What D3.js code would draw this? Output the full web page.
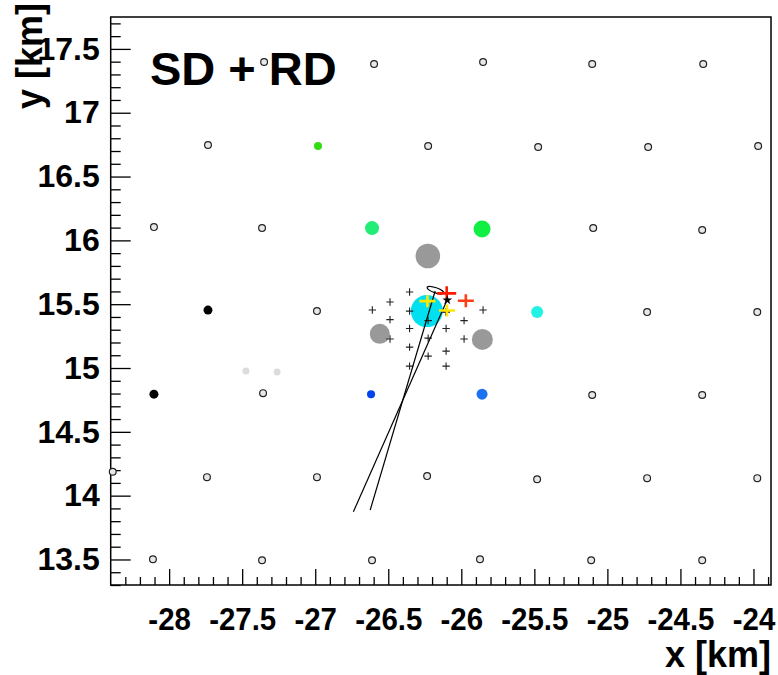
<!DOCTYPE html>
<html>
<head>
<meta charset="utf-8">
<script src="https://cdn.jsdelivr.net/npm/d3@7"></script>
<style>
  html, body { margin: 0; padding: 0; background: #fff; }
  svg { display: block; }
  text { font-family: "Liberation Sans", Arial, Helvetica, sans-serif; font-weight: bold; fill: #000; }
</style>
</head>
<body>
<svg id="chart" width="778" height="675"></svg>
<script>
// Surface detector stations without a signal (x, y in km)
const stationX = [-27.350, -26.597, -25.851, -25.104, -24.344,
  -27.734, -26.227, -25.474, -24.721, -23.968,
  -28.104, -27.364, -25.097, -24.351,
  -26.988, -24.728, -23.974,
  -27.357, -25.104, -24.351,
  -28.386, -27.741, -26.988, -26.234, -25.481, -24.728, -23.974,
  -28.111, -27.364, -26.611, -25.872, -25.111, -24.351];
const stationY = [17.397, 17.382, 17.397, 17.382, 17.382,
  16.747, 16.739, 16.731, 16.731, 16.739,
  16.104, 16.096, 16.096, 16.081,
  15.446, 15.438, 15.438,
  14.803, 14.788, 14.788,
  14.187, 14.145, 14.145, 14.153, 14.129, 14.137, 14.137,
  13.502, 13.494, 13.494, 13.502, 13.494, 13.494];

// Stations with a signal: position, signal size and timing group
const hitX = [-27.734, -28.104, -27.474, -27.261, -26.981, -26.611, -25.858,
  -26.236, -25.481, -26.618, -25.858, -26.229, -26.558, -25.856];
const hitY = [15.454, 14.795, 14.976, 14.968, 16.739, 16.096, 16.089,
  15.446, 15.438, 14.795, 14.795, 15.877, 15.268, 15.224];
const hitSignal = [7.9, 7.9, 4.8, 4.8, 6.3, 19.1, 28.2,
  100, 14.1, 6.3, 11.8, 59.1, 39.1, 43.1];
const hitGroup = ["early", "early", "random", "random", "green1", "green2", "green3",
  "cyan1", "cyan2", "blue1", "blue2", "sat", "sat", "sat"];

// Radio detector antennas
const rdX = [-26.609,
  -26.488, -26.488, -26.488,
  -26.354, -26.354, -26.354, -26.354, -26.354,
  -26.227, -26.227, -26.227,
  -26.104, -26.104, -26.104, -26.104, -26.104,
  -25.981, -25.981,
  -25.851];
const rdY = [15.454,
  15.517, 15.379, 15.227,
  15.595, 15.446, 15.309, 15.164, 15.015,
  15.371, 15.234, 15.093,
  15.438, 15.309, 15.132, 15.015, 15.440,
  15.371, 15.227,
  15.454];

// Radio antennas with a detected pulse
const pulseX = [-26.232, -26.098, -26.100, -25.969];
const pulseY = [15.524, 15.450, 15.585, 15.527];
const pulseGroup = ["yellow", "yellow", "red", "orange"];

// Reconstructed core (star), core ellipse and axis projections
const coreX = [-26.096];
const coreY = [15.532];
const ellipseX = -26.177, ellipseY = 15.610;
const axisLines = [
  [[-26.179, 15.603], [-26.624, 13.886]],
  [[-26.097, 15.532], [-26.739, 13.873]]
];

const xTicks = [-28, -27.5, -27, -26.5, -26, -25.5, -25, -24.5, -24];
const xTickLabels = ["-28", "-27.5", "-27", "-26.5", "-26", "-25.5", "-25", "-24.5", "-24"];
const yTicks = [13.5, 14, 14.5, 15, 15.5, 16, 16.5, 17, 17.5];
const yTickLabels = ["13.5", "14", "14.5", "15", "15.5", "16", "16.5", "17", "17.5"];

const groupColour = {
  early: "#000000", random: "#dcdcdc", green1: "#33dd11", green2: "#22ee77",
  green3: "#11ee44", cyan1: "#00e0f0", cyan2: "#22f2e6", blue1: "#0044ee",
  blue2: "#1a72f0", sat: "#999999"
};
const pulseColour = { yellow: "#ffe600", red: "#ff1a00", orange: "#ff3c14" };
const pulseHalf = { yellow: [8, 6], red: [9.5, 7], orange: [8, 6.5] };

const svg = d3.select("#chart");
const L = 110.7, R = 771, T = 17, B = 585;
const x = d3.scaleLinear([-28.4, -23.88], [L, R]);
const y = d3.scaleLinear([13.3, 17.75], [B, T]);
const rScale = d3.scaleSqrt().domain([0, 100]).range([0, 16]);

svg.append("rect").attr("width", 778).attr("height", 675).attr("fill", "#fff");

// axes: major and minor ticks point into the frame
const isHalf = v => Math.abs(v * 2 - Math.round(v * 2)) < 1e-6;
const xMinor = d3.range(-28.3, -23.85, 0.1).map(v => +v.toFixed(2)).filter(v => !isHalf(v));
const yMinor = d3.range(13.3, 17.751, 0.1).map(v => +v.toFixed(2)).filter(v => !isHalf(v));

svg.append("g").attr("transform", `translate(0,${B})`)
  .call(d3.axisBottom(x).tickValues(xMinor).tickSize(-8).tickFormat(""));
const gxM = svg.append("g").attr("class", "xmajor").attr("transform", `translate(0,${B})`)
  .call(d3.axisBottom(x).tickValues(xTicks).tickSize(-16).tickPadding(22)
    .tickFormat((d, i) => xTickLabels[i]));
svg.append("g").attr("transform", `translate(${L},0)`)
  .call(d3.axisLeft(y).tickValues(yMinor).tickSize(-10).tickFormat(""));
svg.append("g").attr("transform", `translate(${L},0)`)
  .call(d3.axisLeft(y).tickValues(yTicks).tickSize(-20).tickPadding(11)
    .tickFormat((d, i) => yTickLabels[i]));
svg.selectAll(".domain").remove();
svg.selectAll(".tick line").attr("stroke", "#000").attr("stroke-width", 1.3);
svg.selectAll(".tick text").attr("font-size", 32).attr("font-family", null).attr("fill", "#000");
gxM.selectAll(".tick text").attr("transform", "scale(0.92,1)");

// frame
svg.append("rect").attr("x", L).attr("y", T).attr("width", R - L).attr("height", B - T)
  .attr("fill", "none").attr("stroke", "#000").attr("stroke-width", 1.5);

// title and axis titles
svg.append("text").attr("x", 150).attr("y", 85).attr("font-size", 47).text("SD + RD");
svg.append("text").attr("x", R).attr("y", 667).attr("text-anchor", "end").attr("font-size", 36).text("x [km]");
svg.append("text").attr("transform", "translate(42,3) rotate(-90)").attr("text-anchor", "end")
  .attr("font-size", 36).text("y [km]");

// stations without signal
svg.append("g").selectAll("circle").data(d3.range(stationX.length)).join("circle")
  .attr("cx", i => x(stationX[i])).attr("cy", i => y(stationY[i])).attr("r", 3.4)
  .attr("fill", "#e8e8e8").attr("stroke", "#222").attr("stroke-width", 1.2);

// stations with signal
svg.append("g").selectAll("circle").data(d3.range(hitX.length)).join("circle")
  .attr("cx", i => x(hitX[i])).attr("cy", i => y(hitY[i])).attr("r", i => rScale(hitSignal[i]))
  .attr("fill", i => groupColour[hitGroup[i]]);

// radio antennas
const cross = (cx, cy, hx, hy) => `M${cx - hx},${cy}H${cx + hx}M${cx},${cy - hy}V${cy + hy}`;
svg.append("g").selectAll("path").data(d3.range(rdX.length)).join("path")
  .attr("d", i => cross(x(rdX[i]), y(rdY[i]), 3.7, 3.7))
  .attr("stroke", "#222").attr("stroke-width", 1.1).attr("fill", "none");

// shower axis projections
svg.append("g").selectAll("line").data(axisLines).join("line")
  .attr("x1", d => x(d[0][0])).attr("y1", d => y(d[0][1]))
  .attr("x2", d => x(d[1][0])).attr("y2", d => y(d[1][1]))
  .attr("stroke", "#000").attr("stroke-width", 1.2);

// core uncertainty ellipse
svg.append("ellipse").attr("cx", 0).attr("cy", 0).attr("rx", 8.8).attr("ry", 2.6)
  .attr("transform", `translate(${x(ellipseX)},${y(ellipseY)}) rotate(19)`)
  .attr("fill", "none").attr("stroke", "#000").attr("stroke-width", 1.1);

// antennas with pulse
svg.append("g").selectAll("path").data(d3.range(pulseX.length)).join("path")
  .attr("d", i => cross(x(pulseX[i]), y(pulseY[i]), pulseHalf[pulseGroup[i]][0], pulseHalf[pulseGroup[i]][1]))
  .attr("stroke", i => pulseColour[pulseGroup[i]]).attr("stroke-width", 2.6).attr("fill", "none");

// reconstructed core
svg.append("g").selectAll("path").data(d3.range(coreX.length)).join("path")
  .attr("d", d3.symbol(d3.symbolStar, 30))
  .attr("transform", i => `translate(${x(coreX[i])},${y(coreY[i])})`)
  .attr("fill", "#000");
</script>
</body>
</html>
